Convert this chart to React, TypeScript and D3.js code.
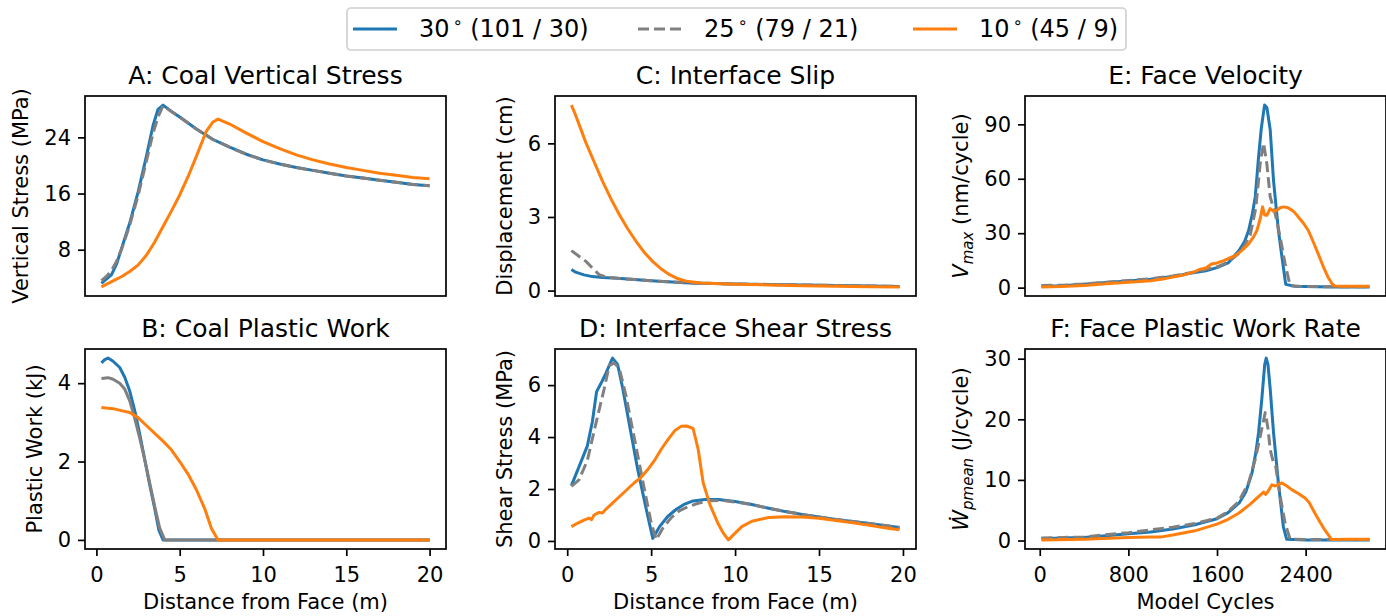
import React, { useEffect, useRef } from 'react';
import * as d3 from 'd3';

const W = 1386;
const H = 616;
const FONT = 'DejaVu Sans';

// legend entries
const seriesAngles = ['30', '25', '10'];
const seriesNotes = ['(101 / 30)', '(79 / 21)', '(45 / 9)'];
const seriesColors = ['#1f77b4', '#808080', '#ff7f0e'];
const seriesDash = [null, '11,5', null];

// tick values
const distTicks = [0, 5, 10, 15, 20];
const cycleTicks = [0, 800, 1600, 2400];

// A: coal vertical stress (MPa) vs distance from face (m)
const aX30 = [0.3, 0.6, 0.9, 1.2, 1.5, 2.0, 2.5, 3.0, 3.4, 3.7, 4.0, 4.5, 5, 6, 7, 8, 9, 10, 11, 12, 13, 14, 15, 16, 17, 18, 19, 20];
const aY30 = [3.2, 3.8, 4.4, 5.9, 8.1, 11.8, 16.2, 21.3, 25.7, 28.0, 28.6, 27.7, 26.9, 25.2, 23.7, 22.6, 21.6, 20.8, 20.2, 19.7, 19.3, 18.9, 18.5, 18.2, 17.9, 17.6, 17.3, 17.1];
const aX25 = [0.3, 0.6, 0.9, 1.2, 1.5, 2.0, 2.5, 3.0, 3.4, 3.7, 4.0, 4.5, 5, 6, 7, 8, 9, 10, 11, 12, 13, 14, 15, 16, 17, 18, 19, 20];
const aY25 = [3.6, 4.2, 5.0, 6.3, 8.0, 11.5, 15.7, 20.6, 24.6, 26.9, 28.5, 27.7, 26.9, 25.2, 23.7, 22.6, 21.6, 20.8, 20.2, 19.7, 19.3, 18.9, 18.5, 18.2, 17.9, 17.6, 17.3, 17.1];
const aX10 = [0.3, 1, 1.5, 2, 2.5, 3, 3.5, 4, 4.5, 5, 5.5, 6, 6.6, 7.0, 7.3, 8, 9, 10, 11, 12, 13, 14, 15, 16, 17, 18, 19, 20];
const aY10 = [2.7, 3.55, 4.15, 4.9, 5.8, 7.2, 9.1, 11.3, 13.5, 15.8, 18.4, 21.3, 24.9, 26.2, 26.6, 25.9, 24.6, 23.4, 22.4, 21.5, 20.8, 20.2, 19.7, 19.3, 18.9, 18.6, 18.3, 18.1];

// B: coal plastic work (kJ)
const bX30 = [0.3, 0.5, 0.7, 1.0, 1.4, 1.7, 2.0, 2.3, 2.6, 2.9, 3.2, 3.5, 3.75, 4.0, 20];
const bY30 = [4.52, 4.6, 4.64, 4.56, 4.4, 4.15, 3.8, 3.3, 2.7, 2.05, 1.4, 0.8, 0.25, 0, 0];
const bX25 = [0.3, 0.7, 1.0, 1.4, 1.7, 2.0, 2.3, 2.6, 2.9, 3.2, 3.5, 3.8, 4.1, 20];
const bY25 = [4.12, 4.14, 4.1, 4.0, 3.85, 3.55, 3.1, 2.6, 2.05, 1.45, 0.85, 0.3, 0, 0];
const bX10 = [0.3, 1, 1.5, 2, 2.5, 3, 3.5, 4, 4.5, 5, 5.5, 6, 6.5, 6.9, 7.3, 20];
const bY10 = [3.38, 3.35, 3.3, 3.25, 3.12, 2.92, 2.72, 2.52, 2.3, 2.0, 1.68, 1.28, 0.8, 0.3, 0, 0];

// C: interface slip (cm)
const cX30 = [0.25, 0.5, 1.0, 1.5, 2.1, 3, 4, 5, 6, 7, 8, 10, 12, 14, 16, 18, 19.8];
const cY30 = [0.86, 0.75, 0.64, 0.57, 0.53, 0.5, 0.45, 0.4, 0.36, 0.32, 0.3, 0.27, 0.25, 0.23, 0.21, 0.19, 0.17];
const cX25 = [0.25, 0.7, 1.1, 1.5, 1.9, 2.3, 3, 4, 5, 6, 7, 8, 10, 12, 14, 16, 18, 19.8];
const cY25 = [1.63, 1.4, 1.2, 0.92, 0.65, 0.55, 0.5, 0.45, 0.4, 0.36, 0.32, 0.3, 0.27, 0.25, 0.23, 0.21, 0.19, 0.17];
const cX10 = [0.25, 0.5, 0.8, 1.1, 1.6, 2.1, 2.6, 3.1, 3.6, 4.1, 4.6, 5.1, 5.6, 6.1, 6.6, 7.1, 8, 10, 12, 14, 16, 18, 19.8];
const cY10 = [7.56, 7.15, 6.6, 6.05, 5.25, 4.46, 3.75, 3.1, 2.52, 2.01, 1.55, 1.18, 0.88, 0.65, 0.48, 0.38, 0.31, 0.26, 0.23, 0.2, 0.18, 0.16, 0.15];

// D: interface shear stress (MPa)
const dX30 = [0.25, 0.7, 1.2, 1.5, 1.75, 2.0, 2.3, 2.7, 3.0, 3.3, 3.6, 3.9, 4.2, 4.5, 4.8, 5.1, 5.5, 6.0, 6.5, 7.0, 7.5, 8.2, 9, 10, 11, 12, 13, 14, 15, 16, 17, 18, 19, 19.8];
const dY30 = [2.13, 2.85, 3.66, 4.6, 5.75, 6.05, 6.45, 7.04, 6.8, 5.9, 4.85, 3.8, 2.75, 1.85, 0.95, 0.1, 0.55, 0.95, 1.22, 1.42, 1.54, 1.6, 1.6, 1.52, 1.4, 1.26, 1.13, 1.02, 0.92, 0.83, 0.75, 0.67, 0.59, 0.52];
const dX25 = [0.25, 0.7, 1.2, 1.7, 2.2, 2.5, 2.8, 3.1, 3.5, 3.8, 4.2, 4.6, 5.0, 5.3, 5.7, 6.2, 6.7, 7.2, 7.8, 8.5, 9.2, 10, 11, 12, 13, 14, 15, 16, 17, 18, 19, 19.8];
const dY25 = [2.1, 2.35, 3.1, 4.5, 5.85, 6.75, 6.85, 6.65, 5.6, 4.6, 3.3, 1.98, 0.7, 0.05, 0.5, 0.9, 1.17, 1.32, 1.45, 1.55, 1.56, 1.5, 1.4, 1.26, 1.13, 1.02, 0.92, 0.83, 0.75, 0.67, 0.59, 0.52];
const dX10 = [0.25, 0.6, 1.0, 1.3, 1.45, 1.6, 1.9, 2.1, 2.3, 2.7, 3.2, 3.6, 4.0, 4.4, 4.8, 5.2, 5.6, 6.0, 6.4, 6.8, 7.1, 7.5, 7.8, 8.1, 8.5, 9.0, 9.3, 9.6, 10.0, 10.4, 11, 12, 13, 14, 15, 16, 17, 18, 19, 19.8];
const dY10 = [0.55, 0.68, 0.8, 0.88, 0.82, 1.0, 1.1, 1.08, 1.22, 1.46, 1.76, 2.0, 2.24, 2.45, 2.75, 3.1, 3.53, 3.9, 4.24, 4.42, 4.43, 4.33, 3.53, 2.24, 1.4, 0.65, 0.3, 0.04, 0.3, 0.55, 0.76, 0.9, 0.93, 0.92, 0.87, 0.79, 0.7, 0.6, 0.5, 0.43];

// E: face velocity (nm/cycle) vs model cycles
const eX30 = [15, 200, 400, 600, 800, 1000, 1200, 1400, 1500, 1600, 1700, 1800, 1850, 1885, 1920, 1945, 1975, 2000, 2029, 2050, 2080, 2110, 2154, 2190, 2220, 2300, 2500, 2700, 2977];
const eY30 = [0.8, 1.0, 1.8, 2.8, 3.6, 4.6, 6.2, 8.3, 9.3, 11.0, 13.6, 20.6, 25.5, 31.5, 41, 50, 72, 88, 100.6, 99.3, 87, 59, 31.6, 15, 1.8, 0.8, 0.5, 0.4, 0.4];
const eX25 = [15, 200, 400, 600, 800, 1000, 1200, 1400, 1600, 1700, 1800, 1850, 1900, 1950, 1990, 2020, 2049, 2080, 2125, 2170, 2215, 2260, 2400, 2700, 2977];
const eY25 = [1.2, 1.3, 2.0, 3.0, 3.9, 4.9, 6.4, 8.6, 11.5, 14.0, 19, 23.5, 29, 44, 68.6, 79.7, 68.6, 50, 40.8, 27.8, 13, 1.0, 0.6, 0.5, 0.5];
const eX10 = [15, 200, 400, 600, 800, 1000, 1100, 1200, 1300, 1400, 1450, 1500, 1550, 1600, 1661, 1720, 1766, 1830, 1885, 1930, 1960, 1990, 2011, 2030, 2050, 2080, 2110, 2140, 2170, 2200, 2240, 2275, 2300, 2334, 2380, 2424, 2470, 2514, 2560, 2603, 2640, 2663, 2750, 2977];
const eY10 = [0.4, 0.6, 1.2, 2.2, 3.0, 3.8, 4.6, 5.8, 7.0, 8.8, 10.2, 10.8, 13.0, 13.6, 14.9, 16.5, 17.7, 20.8, 24.1, 28.0, 31.5, 38, 44.5, 40, 39.9, 43.6, 42, 42.7, 44, 44.5, 44, 42.7, 41.5, 38.9, 35.5, 31.5, 25, 18.5, 11.5, 5.6, 2.0, 0.9, 0.8, 0.8];

// F: face plastic work rate (J/cycle)
const fX30 = [15, 200, 400, 600, 800, 1000, 1200, 1400, 1600, 1700, 1800, 1860, 1915, 1950, 1975, 2004, 2030, 2044, 2060, 2080, 2110, 2154, 2199, 2229, 2400, 2700, 2977];
const fY30 = [0.3, 0.4, 0.5, 0.8, 1.1, 1.4, 1.9, 2.6, 3.6, 4.6, 6.2, 8.0, 11.1, 14.5, 17.8, 23.3, 29.0, 30.1, 29.0, 25, 17.8, 9.5, 2.2, 0.2, 0.1, 0.1, 0.1];
const fX25 = [15, 400, 800, 1200, 1400, 1600, 1700, 1795, 1885, 1945, 1990, 2035, 2060, 2080, 2110, 2130, 2170, 2215, 2260, 2500, 2977];
const fY25 = [0.4, 0.6, 1.3, 2.2, 2.8, 3.7, 4.8, 6.4, 9.5, 13.4, 17.2, 21.1, 18.5, 15, 12.8, 12.2, 7.3, 2.8, 0.2, 0.15, 0.15];
const fX10 = [15, 400, 800, 1000, 1100, 1200, 1400, 1600, 1700, 1795, 1900, 1990, 2020, 2040, 2060, 2095, 2120, 2140, 2185, 2230, 2274, 2330, 2394, 2430, 2484, 2530, 2574, 2633, 2800, 2977];
const fY10 = [0.1, 0.2, 0.5, 0.6, 0.6, 0.9, 1.6, 2.7, 3.5, 4.5, 6.0, 7.5, 8.0, 7.6, 8.1, 9.2, 9.0, 9.1, 9.5, 9.0, 8.4, 7.8, 7.0, 6.3, 4.5, 3.0, 1.7, 0.17, 0.2, 0.2];

type Part = { t: string; it?: boolean; sub?: boolean };

const colLeft = [85, 555, 1025];
const rowTop = [96, 349];
const PW = 361;
const PH = 200;

const panels = [
  { title: 'A: Coal Vertical Stress', col: 0, row: 0, ylabel: [{ t: 'Vertical Stress (MPa)' }] as Part[], yTicks: [8, 16, 24], xTicks: distTicks, xlabel: null as string | null, grayDashed: true, series: [[aX30, aY30], [aX25, aY25], [aX10, aY10]] },
  { title: 'B: Coal Plastic Work', col: 0, row: 1, ylabel: [{ t: 'Plastic Work (kJ)' }] as Part[], yTicks: [0, 2, 4], xTicks: distTicks, xlabel: 'Distance from Face (m)', grayDashed: false, series: [[bX30, bY30], [bX25, bY25], [bX10, bY10]] },
  { title: 'C: Interface Slip', col: 1, row: 0, ylabel: [{ t: 'Displacement (cm)' }] as Part[], yTicks: [0, 3, 6], xTicks: distTicks, xlabel: null, grayDashed: true, series: [[cX30, cY30], [cX25, cY25], [cX10, cY10]] },
  { title: 'D: Interface Shear Stress', col: 1, row: 1, ylabel: [{ t: 'Shear Stress (MPa)' }] as Part[], yTicks: [0, 2, 4, 6], xTicks: distTicks, xlabel: 'Distance from Face (m)', grayDashed: true, series: [[dX30, dY30], [dX25, dY25], [dX10, dY10]] },
  { title: 'E: Face Velocity', col: 2, row: 0, ylabel: [{ t: 'V', it: true }, { t: 'max', it: true, sub: true }, { t: ' (nm/cycle)' }] as Part[], yTicks: [0, 30, 60, 90], xTicks: cycleTicks, xlabel: null, grayDashed: true, series: [[eX30, eY30], [eX25, eY25], [eX10, eY10]] },
  { title: 'F: Face Plastic Work Rate', col: 2, row: 1, ylabel: [{ t: '\u1E86', it: true }, { t: 'pmean', it: true, sub: true }, { t: '  (J/cycle)' }] as Part[], yTicks: [0, 10, 20, 30], xTicks: cycleTicks, xlabel: 'Model Cycles', grayDashed: true, series: [[fX30, fY30], [fX25, fY25], [fX10, fY10]] },
];

// matplotlib style 5% padding around data
function padded(vals: number[]): [number, number] {
  const [lo, hi] = d3.extent(vals) as [number, number];
  const m = (hi - lo) * 0.05;
  return [lo - m, hi + m];
}

export default function App() {
  const svgRef = useRef<SVGSVGElement>(null);

  useEffect(() => {
    const svg = d3.select(svgRef.current);
    svg.selectAll('*').remove();
    svg.append('rect').attr('width', W).attr('height', H).attr('fill', '#fff');

    panels.forEach((p) => {
      const left = colLeft[p.col];
      const top = rowTop[p.row];
      // shared x per column
      const colXs = panels.filter((q) => q.col === p.col).flatMap((q) => q.series.flatMap((s) => s[0]));
      const x = d3.scaleLinear().domain(padded(colXs)).range([left, left + PW]);
      const y = d3.scaleLinear().domain(padded(p.series.flatMap((s) => s[1]))).range([top + PH, top]);

      const g = svg.append('g');

      // lines
      const line = d3
        .line<[number, number]>()
        .x((d) => x(d[0]))
        .y((d) => y(d[1]));
      p.series.forEach((s, i) => {
        const pts = s[0].map((v, j) => [v, s[1][j]] as [number, number]);
        const dash = i === 1 && !p.grayDashed ? null : seriesDash[i];
        g.append('path')
          .attr('d', line(pts))
          .attr('fill', 'none')
          .attr('stroke', seriesColors[i])
          .attr('stroke-width', 3)
          .attr('stroke-linejoin', 'round')
          .attr('stroke-dasharray', dash);
      });

      // y axis
      const ya = g
        .append('g')
        .attr('transform', `translate(${left},0)`)
        .call(d3.axisLeft(y).tickValues(p.yTicks).tickSize(7).tickPadding(7).tickFormat(d3.format('d')));
      ya.select('.domain').remove();
      ya.selectAll('line').attr('stroke', '#000').attr('stroke-width', 1.7);
      ya.selectAll('text').attr('fill', '#000');
      ya.attr('font-size', 21).attr('font-family', FONT);

      let maxW = 0;
      ya.selectAll<SVGTextElement, unknown>('text').each(function () {
        maxW = Math.max(maxW, this.getComputedTextLength());
      });

      // x axis only on bottom row
      if (p.xlabel) {
        const xa = g
          .append('g')
          .attr('transform', `translate(0,${top + PH})`)
          .call(d3.axisBottom(x).tickValues(p.xTicks).tickSize(7).tickPadding(11).tickFormat(d3.format('d')));
        xa.select('.domain').remove();
        xa.selectAll('line').attr('stroke', '#000').attr('stroke-width', 1.7);
        xa.selectAll('text').attr('fill', '#000');
        xa.attr('font-size', 21).attr('font-family', FONT);

        g.append('text')
          .attr('x', left + PW / 2)
          .attr('y', top + PH + 60)
          .attr('text-anchor', 'middle')
          .attr('font-family', FONT)
          .attr('font-size', 21)
          .text(p.xlabel);
      }

      // spines
      g.append('rect')
        .attr('x', left)
        .attr('y', top)
        .attr('width', PW)
        .attr('height', PH)
        .attr('fill', 'none')
        .attr('stroke', '#000')
        .attr('stroke-width', 1.7);

      // y label
      const yl = g
        .append('text')
        .attr('transform', `translate(${left - 14 - maxW - 16},${top + PH / 2}) rotate(-90)`)
        .attr('text-anchor', 'middle')
        .attr('font-family', FONT)
        .attr('font-size', 21);
      let shifted = false;
      p.ylabel.forEach((part) => {
        const ts = yl.append('tspan').text(part.t);
        if (part.it) ts.attr('font-style', 'italic');
        if (part.sub) {
          ts.attr('font-size', 15).attr('dy', 5);
          shifted = true;
        } else if (shifted) {
          ts.attr('dy', -5);
          shifted = false;
        }
      });

      // title
      g.append('text')
        .attr('x', left + PW / 2)
        .attr('y', top - 12)
        .attr('text-anchor', 'middle')
        .attr('font-family', FONT)
        .attr('font-size', 25)
        .text(p.title);
    });

    // legend
    const lg = svg.append('g');
    lg.append('rect')
      .attr('x', 347)
      .attr('y', 8)
      .attr('width', 779)
      .attr('height', 42)
      .attr('rx', 4)
      .attr('fill', '#fff')
      .attr('stroke', '#d0d0d0')
      .attr('stroke-width', 1.7);
    const entryX = [353, 638, 913];
    seriesAngles.forEach((a, i) => {
      const x0 = entryX[i];
      lg.append('line')
        .attr('x1', x0)
        .attr('x2', x0 + 44)
        .attr('y1', 29)
        .attr('y2', 29)
        .attr('stroke', seriesColors[i])
        .attr('stroke-width', 3)
        .attr('stroke-dasharray', seriesDash[i]);
      const t = lg
        .append('text')
        .attr('x', x0 + 66)
        .attr('y', 37)
        .attr('font-family', FONT)
        .attr('font-size', 24);
      t.append('tspan').text(a);
      t.append('tspan').attr('dx', 3).attr('dy', -9).attr('font-size', 16).text('\u2218');
      t.append('tspan').attr('dy', 9).text('\u00a0' + seriesNotes[i]);
    });
  }, []);

  return <svg ref={svgRef} width={W} height={H} style={{ position: 'absolute', left: 0, top: 0 }} />;
}
